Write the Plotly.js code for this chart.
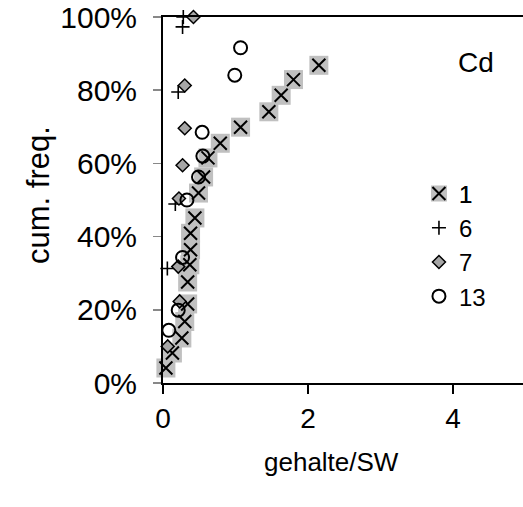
<!DOCTYPE html>
<html><head><meta charset="utf-8">
<script src="https://cdn.plot.ly/plotly-3.0.1.min.js"></script>
<style>html,body{margin:0;padding:0;background:#fff}</style>
</head><body>
<div id="chart" style="width:523px;height:507px"></div>
<script>
// Series 1 (grey squares with x)
const s1_x = [0.04,0.13,0.26,0.30,0.34,0.34,0.37,0.38,0.38,0.44,0.49,0.56,0.62,0.79,1.07,1.46,1.63,1.80,2.15];
const s1_y = [0.041,0.082,0.123,0.168,0.216,0.276,0.323,0.364,0.409,0.451,0.519,0.563,0.615,0.655,0.699,0.741,0.786,0.829,0.868];
// Series 6 (plus)
const s6_x = [0.06,0.17,0.21,0.27,0.28];
const s6_y = [0.313,0.489,0.795,0.973,1.0];
// Series 7 (grey diamonds)
const s7_x = [0.065,0.23,0.21,0.22,0.27,0.30,0.30,0.42];
const s7_y = [0.100,0.223,0.318,0.504,0.595,0.696,0.813,1.0];
// Series 13 (open circles)
const s13_x = [0.08,0.21,0.27,0.33,0.49,0.55,0.54,0.99,1.07];
const s13_y = [0.144,0.199,0.343,0.500,0.563,0.620,0.685,0.841,0.916];

const names = ['1','6','7','13'];
const xTicks = [0,2,4];
const yTicks = [0,0.2,0.4,0.6,0.8,1.0];
const xTitle = 'gehalte/SW';
const yTitle = 'cum. freq.';
const panelLabel = 'Cd';

const FONT = 'Liberation Sans, Arial, sans-serif';

const traces = [
  {x:s1_x, y:s1_y, name:names[0], type:'scatter', mode:'markers', cliponaxis:false,
   marker:{symbol:'square', size:19, color:'#c0c0c0', line:{width:0}}, legend:'legend'},
  {x:s1_x, y:s1_y, name:names[0], type:'scatter', mode:'markers', cliponaxis:false,
   marker:{symbol:'x-thin-open', size:13, color:'#000', line:{width:2, color:'#000'}}, legend:'legend2'},
  {x:s6_x, y:s6_y, name:names[1], type:'scatter', mode:'markers', cliponaxis:false,
   marker:{symbol:'cross-thin-open', size:10, color:'#000', line:{width:1.6, color:'#000'}}, legend:'legend'},
  {x:s7_x, y:s7_y, name:names[2], type:'scatter', mode:'markers', cliponaxis:false,
   marker:{symbol:'diamond', size:10, color:'#a6a6a6', line:{width:1.5, color:'#000'}}, legend:'legend'},
  {x:s13_x, y:s13_y, name:names[3], type:'scatter', mode:'markers', cliponaxis:false,
   marker:{symbol:'circle-open', size:13, color:'#000', line:{width:2, color:'#000'}}, legend:'legend'}
];

const legendCommon = {
  xref:'paper', yref:'paper', x:0.711, y:0.578, xanchor:'left', yanchor:'top',
  bgcolor:'rgba(0,0,0,0)', borderwidth:0, font:{family:FONT, size:24, color:'#000'},
  tracegroupgap:0, itemclick:false
};

const layout = {
  width:523, height:507,
  margin:{l:163, r:0, t:17, b:124, pad:0},
  paper_bgcolor:'#fff', plot_bgcolor:'#fff',
  font:{family:FONT, size:26, color:'#000'},
  showlegend:true,
  xaxis:{range:[0,4.966], tickvals:xTicks, ticktext:xTicks.map(String), ticks:'outside', ticklen:9, tickwidth:1.5,
         tickcolor:'#000', showline:true, linecolor:'#000', linewidth:2, mirror:true,
         showgrid:false, zeroline:false, tickfont:{size:28}},
  yaxis:{range:[0,1], tickvals:yTicks, tickformat:'.0%', ticks:'outside', ticklen:8, tickwidth:1.5,
         tickcolor:'#888', showline:true, linecolor:'#000', linewidth:2,
         showgrid:false, zeroline:false, tickfont:{size:30}, ticklabelstandoff:10},
  legend:Object.assign({}, legendCommon),
  legend2:Object.assign({}, legendCommon),
  annotations:[
    {text:panelLabel, xref:'paper', yref:'paper', x:0.869, y:0.876, xanchor:'center', yanchor:'middle',
     showarrow:false, font:{family:FONT, size:28, color:'#000'}},
    {text:xTitle, xref:'paper', yref:'paper', x:(331-163)/360, y:(383.3-462)/366.6, xanchor:'center', yanchor:'middle',
     showarrow:false, font:{family:FONT, size:26, color:'#000'}},
    {text:yTitle, xref:'paper', yref:'paper', x:(38-163)/360, y:(383.3-195)/366.6, xanchor:'center', yanchor:'middle',
     textangle:-90, showarrow:false, font:{family:FONT, size:31, color:'#000'}}
  ]
};

Plotly.newPlot('chart', traces, layout, {displayModeBar:false, staticPlot:true});
</script>
</body></html>
